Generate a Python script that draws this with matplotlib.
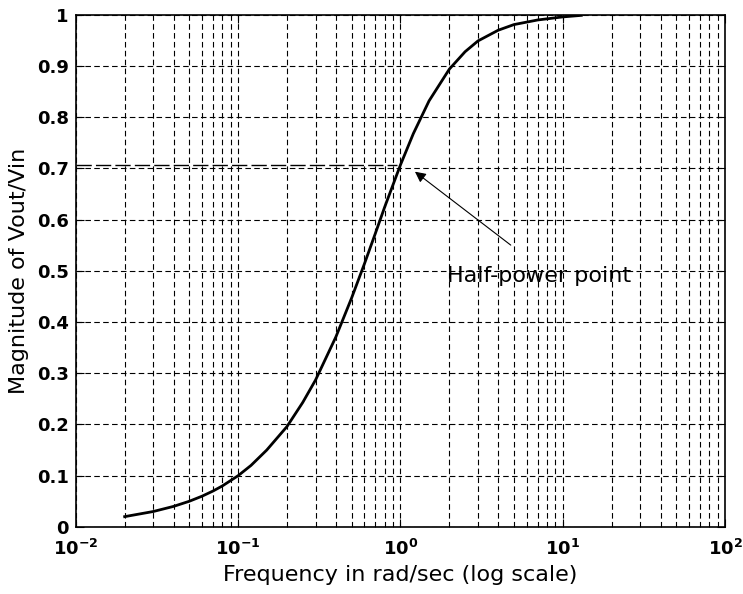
import numpy as np
import matplotlib.pyplot as plt
from matplotlib.ticker import LogLocator, MultipleLocator

plt.rcParams['font.family'] = ['DejaVu Sans']
plt.rcParams['mathtext.fontset'] = 'dejavusans'

# values
freq = [0.02, 0.03, 0.04, 0.05, 0.06, 0.07, 0.08, 0.1, 0.12, 0.15, 0.2,
        0.25, 0.3, 0.4, 0.5, 0.6, 0.7, 0.8, 1.0, 1.2, 1.5, 2.0, 2.5, 3.0,
        4.0, 5.0, 7.0, 10.0, 13.0]
mag = [0.02, 0.03, 0.04, 0.05, 0.06, 0.07, 0.08, 0.10, 0.12, 0.15, 0.196,
       0.243, 0.287, 0.371, 0.447, 0.514, 0.573, 0.625, 0.707, 0.768, 0.832,
       0.894, 0.928, 0.949, 0.970, 0.981, 0.990, 0.996, 0.999]
ytick_labels = ['0', '0.1', '0.2', '0.3', '0.4', '0.5', '0.6', '0.7',
                '0.8', '0.9', '1']
half_power = 0.707

fig = plt.figure(figsize=(7.43, 5.94), dpi=100)
ax = fig.add_axes([0.102, 0.113, 0.874, 0.862])

ax.semilogx(freq, mag, color='black', linewidth=2)
ax.plot([0.01, 0.95], [half_power, half_power], color='black', linewidth=1,
        dashes=(11, 3))

ax.set_xlim(1e-2, 1e2)
ax.set_ylim(0, 1)
ax.xaxis.set_major_locator(LogLocator(base=10, numticks=10))
ax.xaxis.set_minor_locator(LogLocator(base=10, subs=np.arange(2, 10), numticks=20))
ax.set_yticks(np.arange(0, 1.01, 0.1))
ax.set_yticklabels(ytick_labels)

ax.grid(True, which='major', color='black', linestyle=(0, (5, 3)), linewidth=0.8)
ax.grid(True, which='minor', axis='x', color='black', linestyle=(0, (5, 3)),
        linewidth=0.8)

ax.tick_params(which='both', direction='in', top=True, right=True,
               labelsize=13)
ax.tick_params(axis='x', pad=9)
ax.tick_params(axis='y', pad=5)
ax.tick_params(which='major', length=6)
ax.tick_params(which='minor', length=3)
for lab in ax.get_xticklabels() + ax.get_yticklabels():
    lab.set_fontweight('bold')

ax.set_xlabel('Frequency in rad/sec (log scale)', fontsize=16, labelpad=4)
ax.set_ylabel('Magnitude of Vout/Vin', fontsize=16, labelpad=6)

ax.annotate('', xy=(1.19, 0.697), xytext=(4.93, 0.547),
            arrowprops=dict(arrowstyle='-|>', color='black', lw=0.8,
                            mutation_scale=16))
ax.text(1.94, 0.49, 'Half-power point', fontsize=16, ha='left', va='center')

for s in ax.spines.values():
    s.set_linewidth(1.2)

fig.savefig('out.png', dpi=100)
